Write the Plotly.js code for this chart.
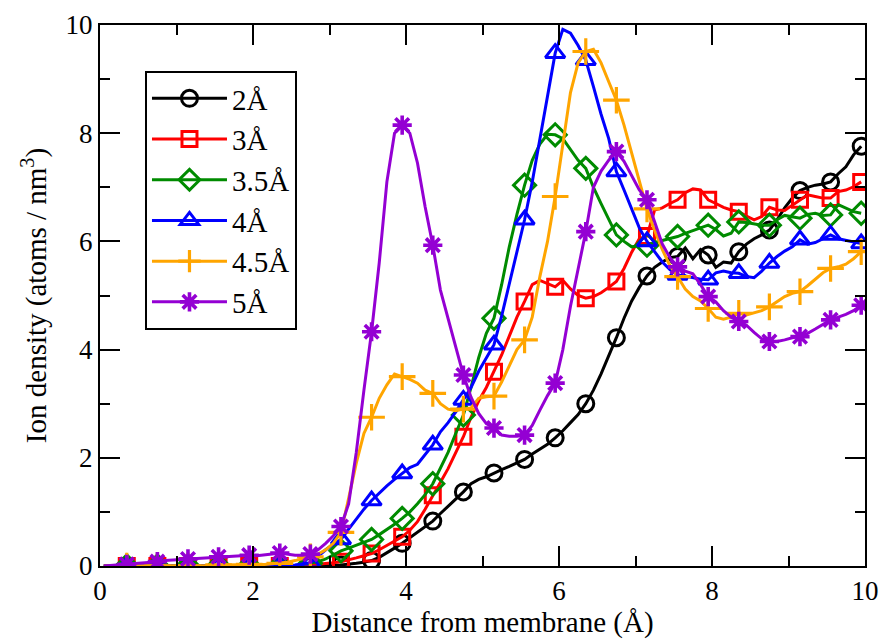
<!DOCTYPE html>
<html>
<head>
<meta charset="utf-8">
<script src="https://cdn.plot.ly/plotly-3.0.1.min.js"></script>
<style>html,body{margin:0;padding:0;background:#fff;}#chart{width:881px;height:639px;}</style>
</head>
<body>
<div id="chart"></div>
<script>
// Distance from membrane (Å), sample positions
var distance = [0.05,0.15,0.25,0.35,0.45,0.55,0.65,0.75,0.85,0.95,
1.05,1.15,1.25,1.35,1.45,1.55,1.65,1.75,1.85,1.95,
2.05,2.15,2.25,2.35,2.45,2.55,2.65,2.75,2.85,2.95,
3.05,3.15,3.25,3.35,3.45,3.55,3.65,3.75,3.85,3.95,
4.05,4.15,4.25,4.35,4.45,4.55,4.65,4.75,4.85,4.95,
5.05,5.15,5.25,5.35,5.45,5.55,5.65,5.75,5.85,5.95,
6.05,6.15,6.25,6.35,6.45,6.55,6.65,6.75,6.85,6.95,
7.05,7.15,7.25,7.35,7.45,7.55,7.65,7.75,7.85,7.95,
8.05,8.15,8.25,8.35,8.45,8.55,8.65,8.75,8.85,8.95,
9.05,9.15,9.25,9.35,9.45,9.55,9.65,9.75,9.85,9.95];

var seriesNames = ["2Å","3Å","3.5Å","4Å","4.5Å","5Å"];

var density2 = [0,0,0,0,0,0,0,0,0,0,
0,0,0,0,0,0,0,0,0,0,
0,0,0,0,0,0,0,0,0.0,0.01,
0.01,0.02,0.03,0.05,0.07,0.10,0.16,0.24,0.33,0.42,
0.52,0.62,0.72,0.83,0.97,1.10,1.24,1.37,1.52,1.60,
1.65,1.72,1.78,1.84,1.90,1.97,2.07,2.16,2.25,2.37,
2.50,2.65,2.80,3.00,3.25,3.55,3.88,4.22,4.58,4.90,
5.15,5.36,5.52,5.62,5.70,5.72,5.88,5.68,5.85,5.75,
5.52,5.62,5.60,5.81,5.95,6.05,6.12,6.21,6.40,6.62,
6.80,6.94,7.00,7.04,7.06,7.10,7.25,7.38,7.60,7.76];

var density3 = [0,0,0,0,0,0,0,0,0,0,
0,0,0,0,0,0,0,0,0,0,
0,0,0,0,0,0,0.01,0.02,0.03,0.04,
0.06,0.08,0.11,0.15,0.19,0.23,0.30,0.38,0.46,0.54,
0.66,0.82,1.05,1.31,1.55,1.80,2.10,2.39,2.75,3.05,
3.30,3.59,3.90,4.25,4.60,4.89,5.20,5.28,5.22,5.16,
5.28,5.12,5.00,4.95,4.98,5.05,5.15,5.26,5.50,5.80,
6.05,6.10,6.58,6.62,6.70,6.77,6.90,6.97,6.95,6.77,
6.70,6.63,6.58,6.55,6.47,6.40,6.46,6.63,6.58,6.57,
6.67,6.77,6.86,6.83,6.80,6.80,6.92,6.95,7.01,7.10];

var density35 = [0,0,0,0,0,0,0,0,0,0,
0,0,0,0,0,0,0,0,0,0,
0,0,0,0,0,0.01,0.03,0.05,0.08,0.13,
0.20,0.28,0.33,0.38,0.43,0.49,0.58,0.67,0.77,0.88,
1.00,1.15,1.32,1.52,1.80,2.10,2.45,2.79,3.30,3.85,
4.30,4.58,5.20,5.90,6.50,7.04,7.50,7.80,7.98,7.97,
7.90,7.70,7.50,7.35,7.00,6.70,6.40,6.12,6.00,5.90,
5.92,5.93,5.98,6.02,6.06,6.09,6.15,6.20,6.25,6.30,
6.22,6.10,6.15,6.36,6.35,6.33,6.30,6.30,6.40,6.48,
6.45,6.43,6.50,6.52,6.48,6.49,6.68,6.62,6.55,6.52];

var density4 = [0,0,0,0,0,0,0,0,0,0,
0,0,0,0,0,0,0,0,0,0,
0,0,0,0,0.01,0.02,0.04,0.06,0.18,0.30,
0.40,0.49,0.68,0.87,1.05,1.21,1.35,1.48,1.60,1.71,
1.82,1.88,2.05,2.24,2.48,2.65,2.85,3.07,3.30,3.60,
3.85,4.09,4.62,5.20,5.80,6.40,7.10,7.90,8.70,9.48,
9.92,9.85,9.62,9.35,8.86,8.35,7.90,7.29,6.95,6.60,
6.25,6.00,5.80,5.62,5.48,5.38,5.36,5.33,5.30,5.29,
5.42,5.45,5.42,5.41,5.35,5.33,5.45,5.60,5.72,5.82,
5.90,6.03,5.95,5.98,6.05,6.12,6.05,6.02,6.00,5.96];

var density45 = [0,0,0,0,0,0,0,0,0,0,
0,0,0.01,0.01,0.01,0.02,0.02,0.02,0.02,0.03,
0.03,0.03,0.04,0.05,0.07,0.10,0.13,0.17,0.22,0.30,
0.42,0.62,1.25,1.90,2.45,2.75,3.10,3.35,3.55,3.50,
3.45,3.38,3.25,3.19,3.00,2.90,2.87,2.90,2.92,3.10,
3.13,3.14,3.40,3.70,4.00,4.18,4.60,5.35,6.00,6.83,
7.80,8.75,9.30,9.51,9.55,9.30,8.95,8.61,8.15,7.65,
7.10,6.60,6.20,5.85,5.55,5.35,5.12,4.98,4.90,4.76,
4.60,4.56,4.60,4.67,4.64,4.68,4.72,4.79,4.88,4.98,
5.04,5.07,5.18,5.30,5.42,5.50,5.53,5.58,5.68,5.81];

var density5 = [0.00,0.01,0.02,0.03,0.05,0.06,0.07,0.08,0.10,0.11,
0.12,0.13,0.14,0.15,0.16,0.17,0.18,0.19,0.20,0.20,
0.19,0.20,0.22,0.24,0.22,0.20,0.20,0.22,0.30,0.42,
0.56,0.73,1.15,2.10,3.25,4.33,5.60,7.10,8.00,8.15,
8.00,7.45,6.64,5.93,5.10,4.55,4.05,3.53,3.12,2.82,
2.63,2.55,2.42,2.40,2.40,2.42,2.60,2.88,3.15,3.38,
4.00,4.80,5.50,6.18,7.00,7.30,7.50,7.66,7.48,7.20,
6.95,6.77,6.35,5.95,5.70,5.53,5.45,5.40,5.20,4.98,
4.88,4.72,4.60,4.52,4.45,4.32,4.20,4.15,4.15,4.18,
4.22,4.24,4.30,4.38,4.47,4.55,4.60,4.65,4.72,4.82];

var seriesValues = [density2, density3, density35, density4, density45, density5];
var colors = ["#000000","#ff0000","#008b00","#0000ff","#ffa500","#9400d3"];
var symbols = ["circle-open","square-open","diamond-open","triangle-up-open","cross-thin-open","asterisk-open"];
var sizes = [16,15,17,17,19,16];
var mlw = [3,3,3,3,3.2,3.6];

var traces = [];
var legendTraces = [];
for (var s = 0; s < seriesValues.length; s++) {
  var mx = [], my = [];
  for (var i = 3; i < distance.length; i += 4) { mx.push(distance[i]); my.push(seriesValues[s][i]); }
  traces.push({x: distance, y: seriesValues[s], type: 'scatter', mode: 'lines',
    line: {color: colors[s], width: 3}, showlegend: false, hoverinfo: 'skip'});
  traces.push({x: mx, y: my, type: 'scatter', mode: 'markers',
    marker: {symbol: symbols[s], size: sizes[s], color: colors[s], line: {color: colors[s], width: mlw[s]}},
    showlegend: false});
  legendTraces.push({x: [null], y: [null], type: 'scatter', mode: 'lines+markers', name: seriesNames[s],
    line: {color: colors[s], width: 3},
    marker: {symbol: symbols[s], size: sizes[s], color: colors[s], line: {color: colors[s], width: mlw[s]}},
    showlegend: true});
}

var fontFam = '"Liberation Serif", "Times New Roman", serif';
var axisCommon = {
  showline: true, linecolor: '#000', linewidth: 2, mirror: 'allticks',
  ticks: 'inside', ticklen: 20, tickwidth: 2, tickcolor: '#000',
  showgrid: false, zeroline: false,
  tickfont: {family: fontFam, size: 27, color: '#000'},
  minor: {dtick: 1, ticks: 'inside', ticklen: 10, tickwidth: 2, tickcolor: '#000', showgrid: false}
};

var layout = {
  width: 881, height: 639,
  margin: {l: 100, r: 16, t: 25, b: 73},
  paper_bgcolor: '#fff', plot_bgcolor: '#fff',
  font: {family: fontFam, color: '#000'},
  xaxis: Object.assign({}, axisCommon, {
    range: [0, 10], dtick: 2, tick0: 0,
    title: {text: 'Distance from membrane (Å)', font: {family: fontFam, size: 29, color: '#000'}, standoff: 10}
  }),
  yaxis: Object.assign({}, axisCommon, {
    range: [0, 10], dtick: 2, tick0: 0,
    title: {text: 'Ion density (atoms / nm<sup>3</sup>)', font: {family: fontFam, size: 29, color: '#000'}, standoff: 10}
  }),
  legend: {
    x: 0.0588, y: 0.915, xanchor: 'left', yanchor: 'top',
    bgcolor: '#fff', bordercolor: '#000', borderwidth: 2,
    font: {family: fontFam, size: 29, color: '#000'},
    itemwidth: 75, tracegroupgap: 0
  },
  showlegend: true
};

Plotly.newPlot('chart', traces.concat(legendTraces), layout, {displayModeBar: false, staticPlot: true});
</script>
</body>
</html>
